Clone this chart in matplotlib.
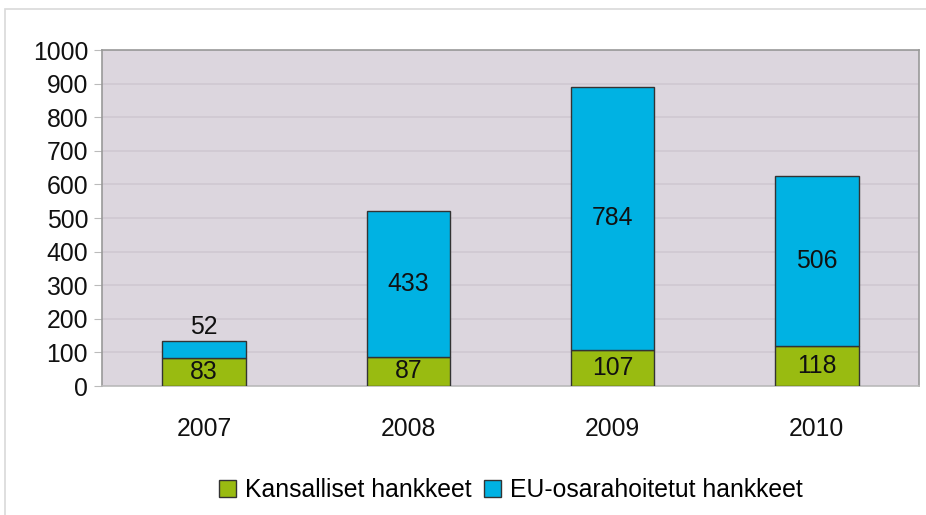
import matplotlib
matplotlib.use("Agg")
import matplotlib.pyplot as plt
from matplotlib.patches import Rectangle
import numpy as np

years = ["2007", "2008", "2009", "2010"]
national = [83, 87, 107, 118]
eu = [52, 433, 784, 506]
series_names = ["Kansalliset hankkeet", "EU-osarahoitetut hankkeet"]

plt.rcParams['font.family'] = ['Liberation Sans', 'DejaVu Sans']
fig = plt.figure(figsize=(9.26, 5.15), dpi=100)
fig.patch.set_facecolor("white")
# outer chart border
fig.add_artist(Rectangle((5/926, -0.1), 1.2, (515-9)/515 + 0.1, transform=fig.transFigure,
                         fill=False, edgecolor="#D9D9D9", linewidth=1.2))

ax = fig.add_axes([102/926, 1-386/515, (919-102)/926, (386-50)/515])
ax.set_facecolor("#DCD6DE")
x = np.arange(len(years))
w = 0.41
green = "#99BB11"
blue = "#00B2E3"
b1 = ax.bar(x, national, w, color=green, edgecolor="#333333", linewidth=1.0, label=series_names[0], zorder=3)
b2 = ax.bar(x, eu, w, bottom=national, color=blue, edgecolor="#333333", linewidth=1.0, label=series_names[1], zorder=3)

fs = 17.8
for i in range(len(years)):
    ax.text(x[i], national[i]/2, str(national[i]), ha="center", va="center", fontsize=fs, color="#111111", zorder=4)
    if eu[i] < 100:
        ax.text(x[i], national[i] + eu[i] + 5, str(eu[i]), ha="center", va="bottom", fontsize=fs, color="#111111", zorder=4)
    else:
        ax.text(x[i], national[i] + eu[i]/2, str(eu[i]), ha="center", va="center", fontsize=fs, color="#111111", zorder=4)

ax.set_xlim(-0.5, 3.5)
ax.set_ylim(0, 1000)
ax.set_yticks(np.arange(0, 1001, 100))
ax.yaxis.grid(True, color="#CFC8D1", linewidth=1.2, zorder=0)
ax.set_axisbelow(True)
ax.set_xticks(x)
ax.set_xticklabels(years)
ax.tick_params(axis="y", labelsize=fs, length=6, color="#BBBBBB", pad=4, labelcolor="#111111")
ax.tick_params(axis="x", labelsize=fs, length=0, pad=22, labelcolor="#111111")
for side in ["top", "right", "left", "bottom"]:
    ax.spines[side].set_color("#999999")
    ax.spines[side].set_linewidth(1.2)
ax.spines["bottom"].set_color("#BBBBBB")

leg = fig.legend(handles=[b1, b2], labels=series_names, loc="center", bbox_to_anchor=(511/926, 1-490/515),
                 ncol=2, frameon=False, fontsize=fs, handlelength=0.7, handleheight=0.7,
                 handletextpad=0.35, columnspacing=0.5, borderaxespad=0)

fig.savefig("out.png", dpi=100)
